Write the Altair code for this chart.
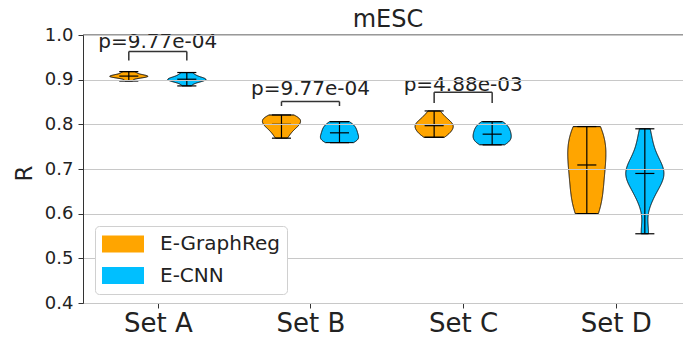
import json
import altair as alt
import pandas as pd

# ---------------- data ----------------
SETS = ["Set A", "Set B", "Set C", "Set D"]
MODELS = ["E-GraphReg", "E-CNN"]
COLORS = ["#FFA500", "#00BFFF"]
TITLE = "mESC"

GRAPHREG_A = [0.897, 0.903, 0.905, 0.906, 0.907, 0.908, 0.909, 0.910, 0.912, 0.915, 0.918]
CNN_A = [0.886, 0.893, 0.896, 0.898, 0.900, 0.901, 0.902, 0.904, 0.907, 0.911, 0.916]
GRAPHREG_B = [0.769, 0.779, 0.788, 0.795, 0.798, 0.800, 0.808, 0.811, 0.813, 0.816, 0.821]
CNN_B = [0.759, 0.762, 0.766, 0.769, 0.772, 0.781, 0.784, 0.789, 0.795, 0.800, 0.806]
GRAPHREG_C = [0.771, 0.776, 0.782, 0.788, 0.792, 0.797, 0.800, 0.804, 0.810, 0.818, 0.830]
CNN_C = [0.754, 0.758, 0.763, 0.768, 0.773, 0.778, 0.783, 0.789, 0.795, 0.800, 0.806]
GRAPHREG_D = [0.600, 0.612, 0.635, 0.662, 0.688, 0.709, 0.726, 0.748, 0.768, 0.784, 0.795]
CNN_D = [0.555, 0.628, 0.655, 0.672, 0.683, 0.690, 0.698, 0.710, 0.728, 0.755, 0.790]

P_SET = ["Set A", "Set B", "Set C"]
P_LABELS = ["p=9.77e-04", "p=9.77e-04", "p=4.88e-03"]
BRACKET_TOP = [0.963, 0.851, 0.872]
BRACKET_FOOT = [0.943, 0.841, 0.848]
P_TEXT_Y = [0.971, 0.866, 0.874]

Y_TICKS = [0.4, 0.5, 0.6, 0.7, 0.8, 0.9, 1.0]

# ---------------- tables ----------------
series = {
    MODELS[0]: [GRAPHREG_A, GRAPHREG_B, GRAPHREG_C, GRAPHREG_D],
    MODELS[1]: [CNN_A, CNN_B, CNN_C, CNN_D],
}
rows = []
for m, lists in series.items():
    for s, vals in zip(SETS, lists):
        for v in vals:
            rows.append({"set": s, "model": m, "value": v})
df = pd.DataFrame(rows)

bdf = pd.DataFrame({"set": P_SET, "label": P_LABELS, "top": BRACKET_TOP,
                    "foot": BRACKET_FOOT, "ty": P_TEXT_Y})
tdf = pd.DataFrame({"t": [TITLE]})

# ---------------- style ----------------
FONT = "DejaVu Sans"
OFF = 0.19          # violin offset from category centre
HALF = 0.125        # half of violin width (data units)
CAP = 0.0625        # half length of median / extrema lines
SETS_JS = json.dumps(SETS)
CENTER = f"indexof({SETS_JS}, datum.set) + 1"
POS = f"{CENTER} + (datum.model === '{MODELS[0]}' ? -{OFF} : {OFF})"

xscale = alt.Scale(domain=[0.51, 4.44], nice=False, zero=False)
yscale = alt.Scale(domain=[0.4, 1.0], nice=False, zero=False)

xaxis = alt.Axis(values=[1, 2, 3, 4], labelExpr=f"{SETS_JS}[datum.value - 1]",
                 labelFontSize=26, labelFont=FONT, labelColor="#222", labelPadding=2,
                 tickSize=5, tickColor="#333", domainColor="#333", grid=False, title=None)
yaxis = alt.Axis(values=Y_TICKS, format=".1f", labelFontSize=18, labelFont=FONT,
                 labelColor="#222", labelPadding=5, tickSize=5, tickColor="#333",
                 domainColor="#333", grid=True, gridColor="#c8c8c8", gridWidth=1,
                 title="R", titleFontSize=23, titleFont=FONT, titleFontWeight="normal",
                 titleColor="#222", titleAngle=270, titleX=-52, titleY=138,
                 titleAlign="center", titleBaseline="alphabetic", zindex=1)

legend = alt.Legend(title=None, orient="none", legendX=12, legendY=191,
                    labelFontSize=20, labelFont=FONT, labelColor="#222",
                    symbolType="M-1,-0.405H1V0.405H-1Z", symbolSize=1764,
                    symbolStrokeWidth=0, symbolOpacity=1, labelOffset=16,
                    clipHeight=22, padding=7, rowPadding=9.5, strokeColor="#d0d0d0",
                    cornerRadius=4, fillColor="white", zindex=2)

# ---------------- layers ----------------
violin = alt.Chart(df).transform_joinaggregate(
    gmin="min(value)", gmax="max(value)", groupby=["set", "model"]
).transform_density(
    "value", as_=["value", "density"], groupby=["set", "model", "gmin", "gmax"], steps=1500
).transform_filter(
    "datum.value >= datum.gmin && datum.value <= datum.gmax"
).transform_joinaggregate(
    maxd="max(density)", groupby=["set", "model"]
).transform_calculate(
    pos=POS, half=f"datum.density / datum.maxd * {HALF}"
).transform_calculate(
    left="datum.pos - datum.half", right="datum.pos + datum.half"
).mark_area(orient="horizontal", stroke="black", strokeWidth=1, opacity=1, fillOpacity=1).encode(
    y=alt.Y("value:Q", scale=yscale, axis=yaxis, title="R"),
    x=alt.X("left:Q", scale=xscale, axis=xaxis, title=None),
    x2="right:Q",
    color=alt.Color("model:N", scale=alt.Scale(domain=MODELS, range=COLORS), legend=legend),
    detail="set:N",
)

stats = alt.Chart(df).transform_aggregate(
    vmin="min(value)", vmax="max(value)", vmed="median(value)", groupby=["set", "model"]
).transform_calculate(pos=POS)

vbar = stats.mark_rule(color="black", strokeWidth=1.2).encode(
    x=alt.X("pos:Q", scale=xscale, title=None),
    y=alt.Y("vmin:Q", scale=yscale, title="R"),
    y2="vmax:Q",
)

caps = stats.transform_fold(["vmin", "vmax", "vmed"], as_=["stat", "sv"]).transform_calculate(
    c1=f"datum.pos - {CAP}", c2=f"datum.pos + {CAP}"
).mark_rule(color="black", strokeWidth=1.2).encode(
    x=alt.X("c1:Q", scale=xscale, title=None),
    x2="c2:Q",
    y=alt.Y("sv:Q", scale=yscale, title="R"),
)

br = alt.Chart(bdf).transform_calculate(
    c=CENTER
).transform_calculate(bl=f"datum.c - {OFF}", brt=f"datum.c + {OFF}")

b_h = br.mark_rule(color="#333", strokeWidth=1.5).encode(
    x=alt.X("bl:Q", scale=xscale, title=None), x2="brt:Q",
    y=alt.Y("top:Q", scale=yscale, title="R"))
b_l = br.mark_rule(color="#333", strokeWidth=1.5).encode(
    x=alt.X("bl:Q", scale=xscale, title=None),
    y=alt.Y("foot:Q", scale=yscale, title="R"), y2="top:Q")
b_r = br.mark_rule(color="#333", strokeWidth=1.5).encode(
    x=alt.X("brt:Q", scale=xscale, title=None),
    y=alt.Y("foot:Q", scale=yscale, title="R"), y2="top:Q")
b_t = br.mark_text(font=FONT, fontSize=20, color="#222", align="center",
                   baseline="alphabetic").encode(
    x=alt.X("c:Q", scale=xscale, title=None),
    y=alt.Y("ty:Q", scale=yscale, title="R"),
    text="label:N")

top_border = alt.Chart(tdf).mark_rule(color="#333", strokeWidth=1).encode(
    y=alt.value(0))

title_text = alt.Chart(tdf).mark_text(font=FONT, fontSize=24, color="#222",
                                      align="center", baseline="alphabetic").encode(
    x=alt.value(305), y=alt.value(-8), text="t:N")

chart = alt.layer(violin, vbar, caps, b_h, b_l, b_r, b_t, top_border, title_text).properties(
    width=600, height=268,
    padding={"left": 83, "top": 35, "right": 0, "bottom": 35},
    autosize=alt.AutoSizeParams(type="none"),
).configure_view(stroke=None)

chart.save("out.html", embed_options={"renderer": "svg", "actions": False})
